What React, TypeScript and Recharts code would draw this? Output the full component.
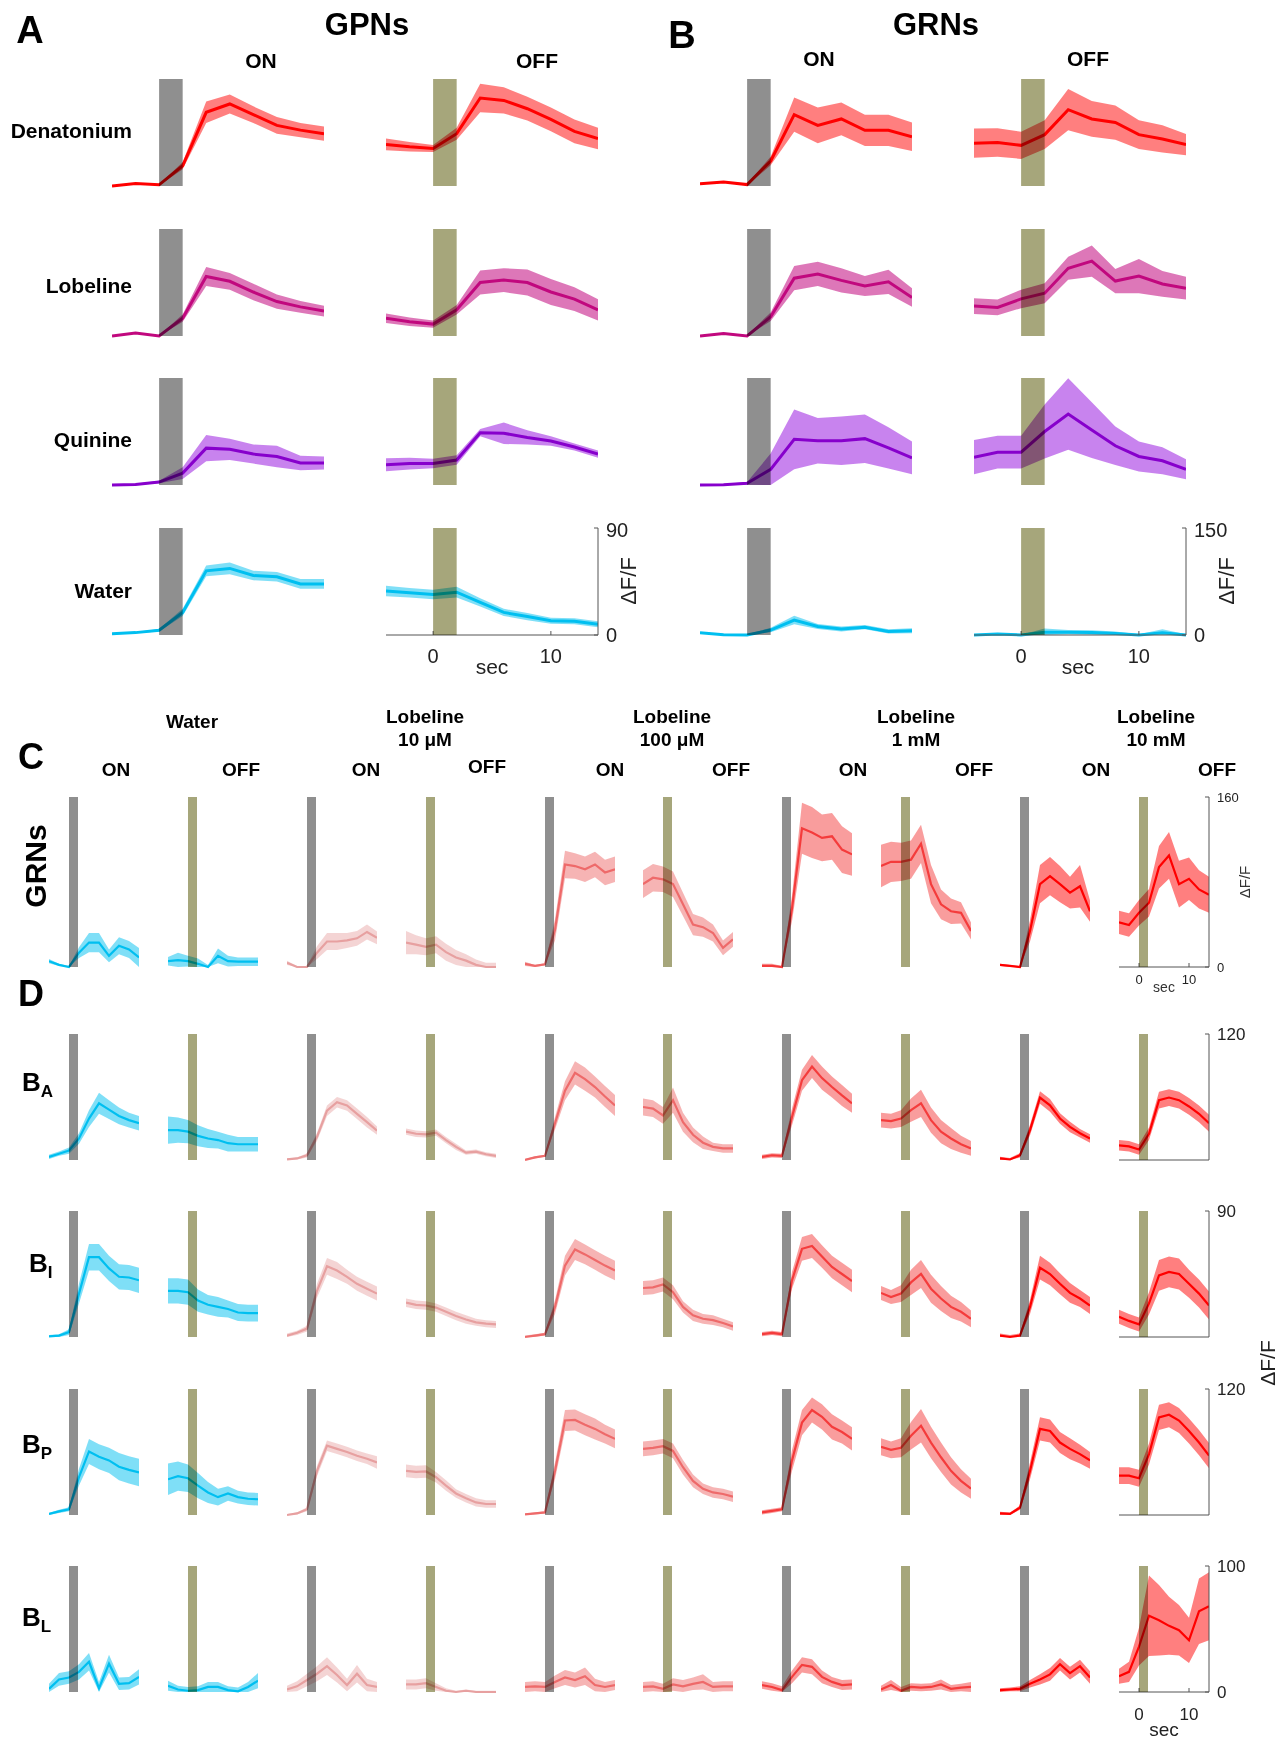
import { ComposedChart, Area, Line, XAxis, YAxis, ReferenceArea } from 'recharts'

type Trace = { m: number[]; s: number[] }

// sample times (sec) shared by every trace
const T = [-4, -2, 0, 2, 4, 6, 8, 10, 12, 14]

const tastants = ['Denatonium', 'Lobeline', 'Quinine', 'Water']
const cHeaders = ['Water', 'Lobeline\n10 μM', 'Lobeline\n100 μM', 'Lobeline\n1 mM', 'Lobeline\n10 mM']
const dRows = ['A', 'I', 'P', 'L']
const dMax = [120, 90, 120, 100]

// A: GPNs, rows = Denatonium, Lobeline, Quinine, Water
const gpnOn: Trace[] = [
  { m: [0, 2, 1, 17, 62, 69, 60, 51, 47, 44], s: [0.5, 0.5, 0.5, 3, 9, 8, 7, 7, 6, 6] },
  { m: [0, 2.5, 0, 15, 50, 46, 37, 29, 24.5, 21], s: [0.5, 0.5, 0.5, 3, 8, 7, 7, 6, 5, 4.5] },
  { m: [0, 0.5, 2.5, 10, 31, 30, 26, 24, 18.5, 18.5], s: [0.3, 0.5, 1, 5, 11, 9, 8, 9, 6, 5.5] },
  { m: [1, 2, 4, 19, 54, 56, 50, 49, 43, 43], s: [0.5, 0.5, 1, 3, 4.5, 5, 4, 4, 4, 4] },
]
const gpnOff: Trace[] = [
  { m: [35, 33, 31.5, 44, 74, 72, 65, 56, 46, 40], s: [5, 4, 3, 5, 12, 11, 10, 10, 10, 9] },
  { m: [15, 12, 10, 22, 45, 47, 45, 37, 31, 22], s: [4, 3.5, 3, 4, 10, 10, 11, 11, 10, 9] },
  { m: [17, 18, 18, 21, 44, 43.5, 40, 37, 32, 26], s: [5.5, 5, 4, 4, 3, 9, 6, 4, 3, 3] },
  { m: [37, 35.5, 34, 36, 27.5, 19, 15.5, 12, 11.5, 9], s: [4.5, 4, 4, 4.5, 3.5, 3, 3, 2.5, 2.5, 2.5] },
]

// B: GRNs
const grnOn: Trace[] = [
  { m: [3, 5.5, 2, 35, 100, 85, 94, 78, 78, 69], s: [1, 1, 1, 6, 24, 25, 23, 22, 22, 20] },
  { m: [0, 3.5, 0, 27, 81, 87, 78, 70, 76, 54], s: [1, 1, 1, 6, 17, 17, 17, 14, 17, 13] },
  { m: [0, 0.5, 2.3, 22, 64, 62, 62, 65, 52, 38], s: [0.5, 1, 2, 22, 42, 32, 34, 34, 29, 23] },
  { m: [3, 0.5, 0, 7, 21, 12, 8.5, 11, 5, 6], s: [1, 1, 1, 3, 6, 3.5, 3.5, 3, 3, 3.5] },
]
const grnOff: Trace[] = [
  { m: [60, 61, 57, 72, 107, 94, 89, 72, 66, 58], s: [20.5, 20, 19, 20, 29, 25, 24, 20, 19, 15] },
  { m: [42, 40, 52, 60, 95, 105, 77, 84, 73, 67], s: [11, 11, 13, 14, 16, 22, 17, 24, 18, 16] },
  { m: [39, 46, 46, 75, 99.5, 77, 55, 40, 34, 22], s: [24, 23, 23, 38, 50, 39, 27, 21, 19, 14] },
  { m: [0, 1.5, 0, 4, 4, 3.5, 2, 0, 3, 0], s: [0.5, 1, 0.5, 5, 3, 3, 3, 1, 5, 1] },
]

// C: GRNs, columns = water ON/OFF, lobeline 10uM, 100uM, 1mM, 10mM ON/OFF
const cGrn: Trace[] = [
  { m: [5.5, 2, 0, 13.5, 23, 23, 10.5, 20, 16.5, 9], s: [2, 1, 1, 5, 9, 9, 6, 8, 8, 9] },
  { m: [5.5, 6.5, 5.5, 3, 0, 10.5, 5.5, 5, 5, 5], s: [4, 7, 5, 5, 2, 7, 5, 4, 4, 4] },
  { m: [4, 0, 0, 13.5, 24, 24, 25, 27, 33, 27.5], s: [2, 1, 1, 6, 8, 8, 7, 7, 7, 6] },
  { m: [23, 21, 19, 21, 14, 9, 6, 2, 0, 0], s: [11, 9, 8, 8, 8, 7, 6, 5, 4, 4] },
  { m: [3, 1, 2.5, 35, 96.5, 95, 92, 96.5, 89, 92], s: [2, 1, 1, 10, 13, 12, 12, 12, 12, 12] },
  { m: [78, 84, 82.5, 78, 59, 40, 37.5, 32, 18, 26], s: [13, 13, 12, 12, 11, 10, 9, 8, 7, 7] },
  { m: [1, 1, 0, 55, 130.5, 126.5, 121.5, 123, 110.5, 106], s: [2, 2, 1, 12, 24, 24, 22, 22, 22, 20] },
  { m: [95, 99, 99, 101, 116, 78, 59, 52.5, 51, 34], s: [20, 19, 18, 18, 18, 18, 14, 12, 10, 8] },
  { m: [2, 1, 0, 34, 78, 85.5, 78, 70, 76, 52.5], s: [1, 1, 1, 10, 18, 18, 17, 15, 20, 10] },
  { m: [42, 39.5, 51, 60.5, 94, 105, 78, 83, 73, 68], s: [11, 11, 12, 13, 20, 22, 22, 20, 18, 17] },
]

// D: single sensilla rows
const dBA: Trace[] = [
  { m: [3, 6, 9, 20.5, 39.5, 54, 48, 42, 38, 35], s: [2, 2, 3, 5, 8, 10, 9, 8, 7, 7] },
  { m: [28.5, 28.5, 27, 23, 20.5, 19, 16, 15, 15, 15], s: [13, 12, 11, 10, 9, 8, 8, 7, 7, 7] },
  { m: [0.5, 1.5, 4.5, 22, 47, 55, 52, 44, 36, 28], s: [1, 1, 2, 4, 5, 5, 5, 5, 5, 4] },
  { m: [27, 25, 24.5, 26, 19, 12.5, 7, 8, 5.5, 4], s: [3, 3, 3, 3, 3, 3, 2, 2, 2, 2] },
  { m: [0, 2.5, 4, 35, 66, 83, 77, 69.5, 60.5, 52], s: [1, 1, 1, 6, 9, 11, 11, 10, 10, 10] },
  { m: [50.5, 49, 42.5, 57, 36, 24, 16.5, 12.5, 11, 11], s: [8, 8, 8, 12, 9, 7, 6, 4, 4, 4] },
  { m: [3, 4.5, 4, 41, 76, 89, 78, 69.5, 61.5, 54], s: [2, 2, 2, 8, 10, 11, 11, 10, 10, 9] },
  { m: [38, 37, 39.5, 47.5, 54, 38, 27, 20.5, 15, 11], s: [7, 7, 8, 11, 13, 12, 11, 10, 8, 7] },
  { m: [1.5, 0.5, 4.5, 28.5, 59.5, 52, 39.5, 31.5, 25.5, 20.5], s: [1.5, 1.5, 2, 5, 6, 6, 5, 5, 4, 4] },
  { m: [14, 13, 10, 25, 57, 59.5, 57, 51, 44, 35], s: [5, 5, 5, 6, 8, 8, 8, 8, 8, 8] },
]
const dBI: Trace[] = [
  { m: [0.5, 1, 3.5, 31, 57, 57, 49, 43, 42.5, 40.5], s: [1, 1, 2, 7, 9.5, 9.5, 9, 9, 9, 9] },
  { m: [33, 33, 32, 26, 23, 21.5, 20, 17.5, 17, 17], s: [9, 9, 9, 8, 7, 7, 6, 6, 6, 6] },
  { m: [1, 3, 6, 33, 50.5, 47.5, 43, 38, 34.5, 31], s: [1.5, 1.5, 2, 5, 6, 6, 5, 5, 5, 5] },
  { m: [24.5, 23, 22.5, 21, 18, 15, 12.5, 10.5, 9.5, 9], s: [3, 3, 3, 3, 3, 3, 3, 2.5, 2.5, 2.5] },
  { m: [0, 1, 2, 21.5, 51, 62.5, 59, 55, 51, 47.5], s: [1, 1, 1, 5, 7, 7.5, 7, 7, 7, 7] },
  { m: [35, 35.5, 37.5, 32, 21.5, 15.5, 13, 12, 10, 7.5], s: [5, 5, 5, 5, 4, 4, 3.5, 3.5, 3, 3] },
  { m: [2, 3, 2, 40.5, 63, 65, 57.5, 50, 45, 40], s: [1.5, 1.5, 1.5, 6, 8.5, 8.5, 8, 8, 8, 8] },
  { m: [31.5, 28.5, 31, 39, 45, 34.5, 27.5, 21.5, 18, 13], s: [5, 5, 6, 9, 10, 10, 9, 8, 7, 6] },
  { m: [1, 0, 1, 21.5, 49.5, 45, 38, 31.5, 27.5, 22.5], s: [1.5, 1.5, 1.5, 5, 8.5, 8, 7.5, 7, 6, 6] },
  { m: [14.5, 11.5, 9, 24, 44, 46.5, 45, 38, 31, 22.5], s: [5, 5, 5, 8, 11, 11, 11, 10, 10, 10] },
]
const dBP: Trace[] = [
  { m: [1, 3.5, 5.5, 36, 60.5, 55.5, 52, 46, 43, 40.5], s: [1, 1.5, 2, 8, 12, 12, 12, 13, 13, 13] },
  { m: [34, 37, 35, 28, 21.5, 17, 20.5, 17, 15.5, 15], s: [15, 14, 13, 12, 10, 8, 7, 6, 6, 6] },
  { m: [0, 1.5, 5.5, 42, 66, 63, 60, 56.5, 53.5, 50], s: [1, 1, 2, 5, 5, 5, 5, 5, 5, 6] },
  { m: [42, 41, 41.5, 36, 28, 20.5, 16, 12, 10.5, 10.5], s: [6, 6, 6, 5, 5, 4, 4, 4, 3.5, 3.5] },
  { m: [0.5, 1.5, 2.5, 42, 90, 90.5, 86, 82, 77, 72.5], s: [1, 1, 1, 8, 10, 10, 10, 10, 9, 9] },
  { m: [63, 64, 65.5, 61, 45.5, 32.5, 25, 21.5, 20, 17.5], s: [7, 7, 7, 7, 7, 6, 5, 5, 5, 5] },
  { m: [2.5, 4, 5.5, 52, 88, 100, 93.5, 84, 79, 72.5], s: [2, 2, 2, 10, 12, 12, 12, 12, 11, 11] },
  { m: [65, 62, 64, 75.5, 85, 69, 55, 42, 32.5, 25], s: [8, 8, 9, 13, 16, 15, 14, 13, 11, 9.5] },
  { m: [1.5, 1, 7, 42, 82, 80, 69, 63, 58, 52], s: [1.5, 1.5, 2, 8, 11, 11, 10, 10, 9, 8] },
  { m: [37.5, 37.5, 35, 58, 93, 95.5, 90, 80, 69, 56.5], s: [8, 8, 8, 10, 12, 12, 12, 12, 12, 12] },
]
const dBL: Trace[] = [
  { m: [2.5, 10, 11.5, 16, 24, 3, 22.5, 6.5, 7, 12], s: [4, 5, 5, 6, 7, 5, 7, 5, 5, 6] },
  { m: [5, 2, 1, 1.5, 4, 4, 1.5, 0.5, 4, 9], s: [4, 3, 3, 3, 4, 4, 3, 3, 4, 6] },
  { m: [2, 4.5, 9.5, 14.5, 20.5, 13.5, 5.5, 14.5, 5.5, 4], s: [3, 4, 5, 6, 7, 6, 5, 7, 5, 4] },
  { m: [6, 6, 7, 4, 1, 0, 1, 0, 0, 0], s: [4, 4, 4, 3, 2, 1, 1, 1, 1, 1] },
  { m: [4, 4.5, 4, 8, 11.5, 9.5, 12.5, 5.5, 4, 5.5], s: [4, 4, 4, 5, 6, 6, 7, 5, 4, 4] },
  { m: [4, 4.5, 2.5, 6, 4.5, 6.5, 8, 4, 4.5, 4.5], s: [4, 4, 4, 5, 5, 5, 6, 4, 4, 4] },
  { m: [5.5, 4, 1.5, 12, 21.5, 20, 12, 8, 5.5, 6], s: [3, 3, 3, 5, 6, 6, 5, 4, 4, 4] },
  { m: [2, 5.5, 1, 4, 3.5, 4, 6, 2.5, 3.5, 4], s: [3, 4, 3, 3, 3, 3, 4, 3, 3, 4] },
  { m: [1.5, 2, 2.5, 6.5, 10, 14, 22, 15, 20.5, 11.5], s: [1.5, 1.5, 2, 3, 4, 5, 5, 5, 5, 5] },
  { m: [12.5, 16, 36, 60.5, 57, 52.5, 49, 41, 64, 68], s: [6, 8, 15, 32, 28, 23, 20, 18, 26, 27] },
]
const dTraces = [dBA, dBI, dBP, dBL]

const abColors = [
  { line: '#ff0000', band: '#ff0000', op: 0.5 },
  { line: '#c1087e', band: '#c1087e', op: 0.55 },
  { line: '#8700cc', band: '#9a1ee0', op: 0.55 },
  { line: '#00bff0', band: '#00bff0', op: 0.5 },
]
const concColors = [
  { line: '#00bff0', band: '#00bff0', op: 0.5 },
  { line: '#e7a0a0', band: '#e7a0a0', op: 0.45 },
  { line: '#ee6a6a', band: '#ee6a6a', op: 0.5 },
  { line: '#f43c3c', band: '#f43c3c', op: 0.5 },
  { line: '#ff0000', band: '#ff0000', op: 0.5 },
]

const ON_GREY = '#8f8f8f'
const OFF_OLIVE = '#a6a67b'
const FONT = '"Liberation Sans", Arial, Helvetica, sans-serif'

type MiniProps = {
  left: number
  top: number
  w: number
  h: number
  ymax: number
  tr: Trace
  col: { line: string; band: string; op: number }
  on: boolean
  lw: number
  stim: number
  yAxis?: boolean
  xAxis?: boolean
  xLabels?: boolean
  fs?: number
  xMargin?: number
}

function Mini({ left, top, w, h, ymax, tr, col, on, lw, stim, yAxis, xAxis, xLabels, fs = 16, xMargin = 8 }: MiniProps) {
  const data = T.map((t, i) => ({ t, m: tr.m[i], r: [Math.max(0, tr.m[i] - tr.s[i]), tr.m[i] + tr.s[i]] }))
  const mr = yAxis ? 0 : 4
  const yw = yAxis ? 46 : 0
  const xh = xAxis ? (xLabels ? 34 : 2) : 0
  const mb = xAxis ? 0 : 4
  return (
    <div style={{ position: 'absolute', left: left - 4, top: top - 10 }}>
      <ComposedChart width={4 + w + mr + yw} height={10 + h + mb + xh} data={data} margin={{ top: 10, left: 4, right: mr, bottom: mb }}>
        <XAxis
          dataKey="t"
          type="number"
          domain={[-4, 14]}
          ticks={[0, 10]}
          hide={!xAxis}
          height={xh}
          tick={xLabels ? { fontSize: fs, fill: '#222' } : false}
          tickLine={{ stroke: '#555' }}
          tickSize={-4}
          tickMargin={xMargin + 10}
          axisLine={{ stroke: '#555' }}
          allowDataOverflow
        />
        <YAxis
          type="number"
          domain={[0, ymax]}
          ticks={[0, ymax]}
          orientation="right"
          hide={!yAxis}
          width={yw}
          tick={{ fontSize: fs, fill: '#222' }}
          tickLine={{ stroke: '#555' }}
          tickSize={-4}
          tickMargin={12}
          axisLine={{ stroke: '#555' }}
        />
        <Area dataKey="r" type="linear" stroke="none" fill={col.band} fillOpacity={col.op} isAnimationActive={false} />
        <Line dataKey="m" type="linear" stroke={col.line} strokeWidth={lw} dot={false} isAnimationActive={false} />
        <ReferenceArea x1={0} x2={stim} fill={on ? ON_GREY : OFF_OLIVE} fillOpacity={1} stroke="none" style={{ mixBlendMode: 'multiply' }} zIndex={1500} />
      </ComposedChart>
    </div>
  )
}

type TxtProps = { x: number; y: number; size: number; bold?: boolean; align?: 'left' | 'center' | 'right'; rotate?: number; color?: string; children: React.ReactNode }

function Txt({ x, y, size, bold = true, align = 'center', rotate = 0, color = '#000', children }: TxtProps) {
  const tx = align === 'center' ? '-50%' : align === 'right' ? '-100%' : '0'
  return (
    <div
      style={{
        position: 'absolute', left: x, top: y, transform: `translate(${tx}, -50%) rotate(${rotate}deg)`,
        fontSize: size, fontWeight: bold ? 700 : 400, color, whiteSpace: 'pre', lineHeight: 1.2, textAlign: 'center',
      }}
    >
      {children}
    </div>
  )
}

const abRowTop = [79, 229, 378, 528]
const abLabelY = [131, 286, 440, 591]
const cLefts = [49, 168, 287, 406, 525, 643, 762, 881, 1000, 1119]
const dTops = [1034, 1211, 1389, 1566]
const cOnX = [116, 366, 610, 853, 1096]
const cOffX = [241, 487, 731, 974, 1217]
const cHeadX = [192, 425, 672, 916, 1156]
const dLabelX = [22, 29, 22, 22]
const dLabelY = [1085, 1266, 1447, 1620]

export default function App() {
  return (
    <div style={{ position: 'absolute', left: 0, top: 0, width: 1284, height: 1744, background: '#fff', fontFamily: FONT, overflow: 'hidden' }}>
      {/* panel A / B headers */}
      <Txt x={30} y={31} size={38}>A</Txt>
      <Txt x={367} y={25} size={31}>GPNs</Txt>
      <Txt x={261} y={61} size={21}>ON</Txt>
      <Txt x={537} y={61} size={21}>OFF</Txt>
      <Txt x={682} y={36} size={38}>B</Txt>
      <Txt x={936} y={25} size={31}>GRNs</Txt>
      <Txt x={819} y={59} size={21}>ON</Txt>
      <Txt x={1088} y={59} size={21}>OFF</Txt>
      {tastants.map((name, i) => (
        <Txt key={name} x={132} y={abLabelY[i]} size={21} align="right">{name}</Txt>
      ))}

      {tastants.map((name, i) => (
        <div key={'ab' + name}>
          <Mini left={112} top={abRowTop[i]} w={212} h={107} ymax={90} tr={gpnOn[i]} col={abColors[i]} on lw={3} stim={2} />
          <Mini left={386} top={abRowTop[i]} w={212} h={107} ymax={90} tr={gpnOff[i]} col={abColors[i]} on={false} lw={3} stim={2}
            yAxis={i === 3} xAxis={i === 3} xLabels={i === 3} fs={20} xMargin={8} />
          <Mini left={700} top={abRowTop[i]} w={212} h={107} ymax={150} tr={grnOn[i]} col={abColors[i]} on lw={3} stim={2} />
          <Mini left={974} top={abRowTop[i]} w={212} h={107} ymax={150} tr={grnOff[i]} col={abColors[i]} on={false} lw={3} stim={2}
            yAxis={i === 3} xAxis={i === 3} xLabels={i === 3} fs={20} xMargin={8} />
        </div>
      ))}
      <Txt x={492} y={667} size={21} bold={false} color="#222">sec</Txt>
      <Txt x={629} y={581} size={22} bold={false} rotate={-90} color="#222">ΔF/F</Txt>
      <Txt x={1078} y={667} size={21} bold={false} color="#222">sec</Txt>
      <Txt x={1227} y={581} size={22} bold={false} rotate={-90} color="#222">ΔF/F</Txt>

      {/* panel C */}
      <Txt x={31} y={757} size={36}>C</Txt>
      <Txt x={36} y={866} size={30} rotate={-90}>GRNs</Txt>
      {cHeaders.map((hd, i) => (
        <Txt key={hd} x={cHeadX[i]} y={i === 0 ? 722 : 729} size={19}>{hd}</Txt>
      ))}
      {cOnX.map((x, i) => (
        <Txt key={'con' + i} x={x} y={770} size={19}>ON</Txt>
      ))}
      {cOffX.map((x, i) => (
        <Txt key={'coff' + i} x={x} y={i === 1 ? 767 : 770} size={19}>OFF</Txt>
      ))}
      {cGrn.map((tr, j) => (
        <Mini key={'c' + j} left={cLefts[j]} top={797} w={90} h={170} ymax={160} tr={tr} col={concColors[Math.floor(j / 2)]}
          on={j % 2 === 0} lw={2.2} stim={1.8} yAxis={j === 9} xAxis={j === 9} xLabels={j === 9} fs={13} xMargin={2} />
      ))}
      <Txt x={1164} y={987} size={14} bold={false} color="#333">sec</Txt>
      <Txt x={1245} y={882} size={15} bold={false} rotate={-90} color="#333">ΔF/F</Txt>

      {/* panel D */}
      <Txt x={31} y={994} size={36}>D</Txt>
      {dRows.map((r, k) => (
        <Txt key={'dl' + r} x={dLabelX[k]} y={dLabelY[k]} size={26} align="left">
          <span>B<sub style={{ fontSize: 17 }}>{r}</sub></span>
        </Txt>
      ))}
      {dTraces.map((row, k) =>
        row.map((tr, j) => (
          <Mini key={'d' + k + '-' + j} left={cLefts[j]} top={dTops[k]} w={90} h={126} ymax={dMax[k]} tr={tr}
            col={concColors[Math.floor(j / 2)]} on={j % 2 === 0} lw={2.2} stim={1.8}
            yAxis={j === 9} xAxis={j === 9} xLabels={j === 9 && k === 3} fs={17} xMargin={10} />
        ))
      )}
      <Txt x={1164} y={1730} size={19} bold={false} color="#222">sec</Txt>
      <Txt x={1268} y={1363} size={21} bold={false} rotate={-90} color="#222">ΔF/F</Txt>
    </div>
  )
}
